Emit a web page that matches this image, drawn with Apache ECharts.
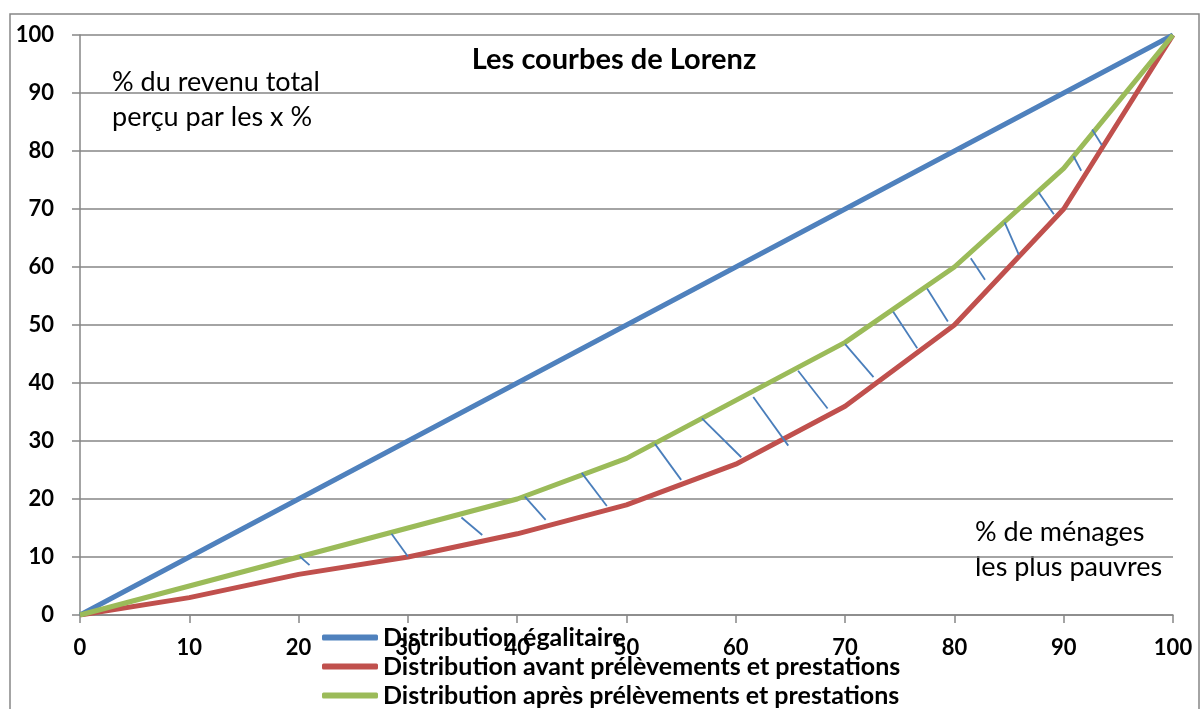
<!DOCTYPE html>
<html>
<head>
<meta charset="utf-8">
<script src="https://cdn.jsdelivr.net/npm/echarts@6/dist/echarts.min.js"></script>
<style>
  html, body { margin: 0; padding: 0; background: #fff; }
  #chart { width: 1201px; height: 709px; }
</style>
</head>
<body>
<div id="chart"></div>
<script>
const xShares = [0, 10, 20, 30, 40, 50, 60, 70, 80, 90, 100];
const egalitaire = [0, 10, 20, 30, 40, 50, 60, 70, 80, 90, 100];
const avant = [0, 3, 7, 10, 14, 19, 26, 36, 50, 70, 100];
const apres = [0, 5, 10, 15, 20, 27, 37, 47, 60, 77, 100];
const yTicks = [0, 10, 20, 30, 40, 50, 60, 70, 80, 90, 100];

// hatching between the two curves, [x1, y1, x2, y2] in data units
const hatches = [
  [20.1, 10.1, 21.0, 8.6],
  [28.5, 14.0, 30.0, 10.1],
  [34.9, 16.8, 36.8, 13.8],
  [40.7, 20.4, 42.6, 16.4],
  [45.9, 24.5, 48.2, 18.8],
  [52.6, 29.5, 55.0, 23.3],
  [56.9, 33.9, 60.5, 27.2],
  [61.6, 37.6, 64.8, 29.2],
  [65.7, 42.1, 68.4, 35.6],
  [70.0, 46.7, 72.6, 41.0],
  [74.4, 52.3, 76.6, 46.0],
  [77.5, 56.3, 79.4, 50.6],
  [81.5, 61.5, 82.8, 57.8],
  [84.6, 67.7, 85.9, 62.1],
  [87.7, 72.9, 89.1, 69.1],
  [90.9, 79.1, 91.6, 76.6],
  [92.6, 83.7, 93.5, 81.0]
];

const font = 'Lato';
const grey = '#868686';

const chart = echarts.init(document.getElementById('chart'));

const pairs = (ys) => xShares.map((x, i) => [x, ys[i]]);

chart.setOption({
  animation: false,
  title: {
    text: 'Les courbes de Lorenz',
    left: 609,
    top: 40,
    textAlign: 'center',
    textStyle: { fontFamily: font, fontSize: 29, fontWeight: 'bold', color: '#000' }
  },
  grid: { left: 80, right: 28, top: 35, bottom: 94 },
  legend: {
    orient: 'vertical',
    left: 322,
    top: 625,
    padding: 0,
    itemGap: 4,
    itemWidth: 56,
    itemHeight: 6,
    icon: 'roundRect',
    data: ['Distribution égalitaire', 'Distribution avant prélèvements et prestations', 'Distribution après prélèvements et prestations'],
    textStyle: { fontFamily: font, fontSize: 25, fontWeight: 'bold', color: '#000', lineHeight: 25 }
  },
  xAxis: {
    type: 'value',
    min: 0,
    max: 100,
    interval: 10,
    axisLine: { lineStyle: { color: grey, width: 1.5 } },
    axisTick: { show: true, length: 8, lineStyle: { color: grey, width: 1.5 } },
    axisLabel: { margin: 22, fontFamily: font, fontSize: 22, fontWeight: 'bold', color: '#000' },
    splitLine: { show: false }
  },
  yAxis: {
    type: 'value',
    min: 0,
    max: 100,
    interval: 10,
    axisLine: { show: true, lineStyle: { color: grey, width: 1.5 } },
    axisTick: { show: true, length: 8, lineStyle: { color: grey, width: 1.5 } },
    axisLabel: {
      margin: 26, fontFamily: font, fontSize: 22, fontWeight: 'bold', color: '#000',
      formatter: (v) => (yTicks.includes(v) ? String(v) : '')
    },
    splitLine: { show: true, lineStyle: { color: grey, width: 1.5 } }
  },
  graphic: [
    {
      type: 'rect', silent: true, z: -1,
      shape: { x: 10, y: 14, width: 1189, height: 720 },
      style: { fill: 'none', stroke: grey, lineWidth: 1.5 }
    },
    {
      type: 'text', left: 112, top: 65,
      style: { text: '% du revenu total\nperçu par les x %', font: '27px Lato', fill: '#000', lineHeight: 35 }
    },
    {
      type: 'text', left: 975, top: 515,
      style: { text: '% de ménages\nles plus pauvres', font: '27px Lato', fill: '#000', lineHeight: 35 }
    }
  ],
  series: [
    {
      name: 'Distribution égalitaire',
      type: 'line',
      data: pairs(egalitaire),
      showSymbol: false,
      lineStyle: { color: '#4F81BD', width: 5 },
      itemStyle: { color: '#4F81BD' },
      z: 3
    },
    {
      name: 'Distribution avant prélèvements et prestations',
      type: 'line',
      data: pairs(avant),
      showSymbol: false,
      lineStyle: { color: '#C0504D', width: 5 },
      itemStyle: { color: '#C0504D' },
      z: 2
    },
    {
      name: 'Distribution après prélèvements et prestations',
      type: 'line',
      data: pairs(apres),
      showSymbol: false,
      lineStyle: { color: '#9BBB59', width: 5 },
      itemStyle: { color: '#9BBB59' },
      z: 3
    },
    {
      name: 'hachures',
      type: 'lines',
      coordinateSystem: 'cartesian2d',
      data: hatches.map((h) => ({ coords: [[h[0], h[1]], [h[2], h[3]]] })),
      lineStyle: { color: '#4A7EBB', width: 1.8, opacity: 1 },
      z: 4
    }
  ]
});
</script>
</body>
</html>
